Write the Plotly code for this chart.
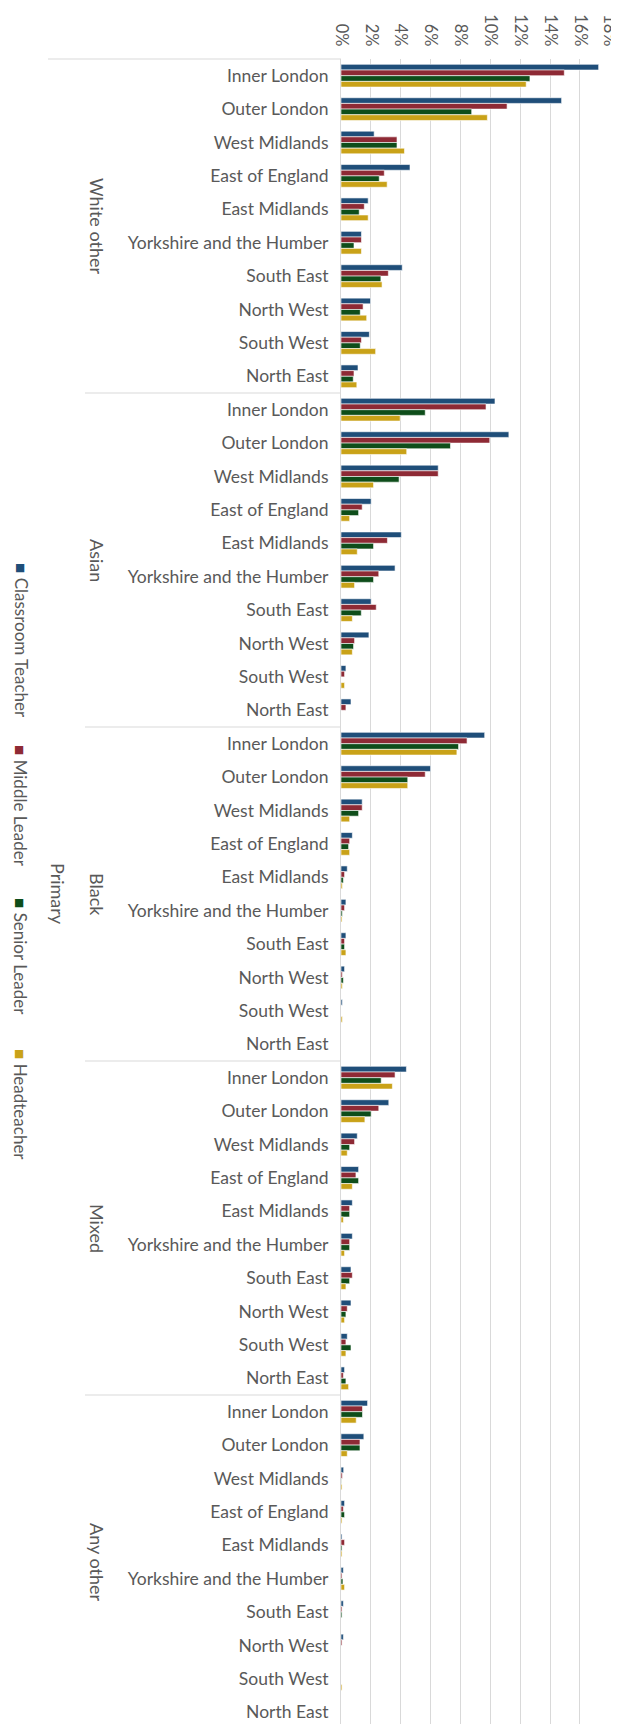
import plotly.graph_objects as go

regions = ["Inner London", "Outer London", "West Midlands", "East of England",
           "East Midlands", "Yorkshire and the Humber", "South East",
           "North West", "South West", "North East"]
groups = ["White other", "Asian", "Black", "Mixed", "Any other"]
series_names = ["Classroom Teacher", "Middle Leader", "Senior Leader", "Headteacher"]
colors = ["#1F4E79", "#8E2A35", "#0E4D1A", "#C9A218"]
x_ticks = [0, 2, 4, 6, 8, 10, 12, 14, 16, 18]
x_tick_labels = ["0%", "2%", "4%", "6%", "8%", "10%", "12%", "14%", "16%", "18%"]

# values in percent, per group (regions in the order above)
classroom_teacher = [
    17.25, 14.77, 2.22, 4.62, 1.82, 1.37, 4.10, 1.98, 1.90, 1.14,   # White other
    10.31, 11.24, 6.51, 2.02, 4.04, 3.62, 2.02, 1.87, 0.33, 0.67,   # Asian
    9.62, 6.00, 1.42, 0.76, 0.42, 0.33, 0.33, 0.24, 0.09, 0.0,      # Black
    4.38, 3.20, 1.09, 1.18, 0.76, 0.76, 0.67, 0.67, 0.42, 0.24,     # Mixed
    1.78, 1.53, 0.18, 0.24, 0.07, 0.16, 0.16, 0.16, 0.0, 0.0,       # Any other
]
middle_leader = [
    14.95, 11.12, 3.75, 2.90, 1.56, 1.37, 3.17, 1.48, 1.37, 0.87,
    9.71, 9.96, 6.51, 1.42, 3.11, 2.53, 2.36, 0.91, 0.24, 0.33,
    8.44, 5.64, 1.42, 0.58, 0.24, 0.24, 0.24, 0.09, 0.0, 0.0,
    3.62, 2.53, 0.91, 1.00, 0.58, 0.58, 0.76, 0.42, 0.33, 0.16,
    1.44, 1.27, 0.09, 0.16, 0.24, 0.07, 0.07, 0.07, 0.0, 0.0,
]
senior_leader = [
    12.65, 8.75, 3.75, 2.56, 1.22, 0.87, 2.67, 1.29, 1.29, 0.82,
    5.64, 7.33, 3.89, 1.18, 2.18, 2.18, 1.36, 0.84, 0.0, 0.0,
    7.87, 4.47, 1.18, 0.51, 0.16, 0.09, 0.24, 0.16, 0.0, 0.0,
    2.69, 2.02, 0.58, 1.18, 0.58, 0.58, 0.58, 0.33, 0.67, 0.33,
    1.44, 1.27, 0.02, 0.24, 0.07, 0.13, 0.07, 0.0, 0.0, 0.0,
]
headteacher = [
    12.40, 9.80, 4.25, 3.09, 1.82, 1.37, 2.75, 1.72, 2.32, 1.06,
    3.96, 4.40, 2.18, 0.58, 1.09, 0.91, 0.76, 0.76, 0.24, 0.0,
    7.76, 4.47, 0.58, 0.58, 0.09, 0.07, 0.33, 0.09, 0.09, 0.0,
    3.44, 1.60, 0.42, 0.76, 0.16, 0.24, 0.33, 0.24, 0.33, 0.51,
    1.02, 0.42, 0.07, 0.07, 0.07, 0.24, 0.0, 0.0, 0.07, 0.0,
]

# page has an 8px body margin; figure placed at (8, 8)
OFF = 8
PAGE_W, PAGE_H = 619, 1724
W, H = PAGE_W - OFF, PAGE_H - OFF
L, R, T, B = 341 - OFF, 9, 59 - OFF, 0
PW, PH = W - L - R, H - T - B
ROW = 33.4
n_rows = len(groups) * len(regions)
y_idx = list(range(n_rows))
y_labels = regions * len(groups)

def px_x(px):  # page pixel -> paper x
    return (px - OFF - L) / PW

def px_y(py):  # page pixel -> paper y
    return (H - B - (py - OFF)) / PH

FONT = "Lato, 'Open Sans', sans-serif"
GREY = "#595959"

fig = go.Figure()
for name, vals, col in zip(series_names,
                           [classroom_teacher, middle_leader, senior_leader, headteacher],
                           colors):
    fig.add_trace(go.Bar(
        x=vals, y=y_idx, orientation="h", name=name,
        marker=dict(color=col, line=dict(color="white", width=0.6)),
        showlegend=False,
    ))

y_bottom = -0.5 + PH / ROW

fig.update_layout(
    width=W, height=H,
    margin=dict(l=L, r=R, t=T, b=B, pad=0),
    plot_bgcolor="white", paper_bgcolor="white",
    barmode="group", bargap=0.32, bargroupgap=0.0,
    font=dict(family=FONT, color=GREY),
    xaxis=dict(
        side="top", range=[0, 18.01], tickvals=x_ticks, ticktext=x_tick_labels,
        tickangle=90, showgrid=True, gridcolor="#D9D9D9", gridwidth=1,
        zeroline=False, showline=False, ticks="", automargin=False,
        ticklabeloverflow="allow",
        tickfont=dict(size=16.5, color=GREY, family=FONT), ticklabelstandoff=9,
    ),
    yaxis=dict(
        range=[y_bottom, -0.5], tickvals=y_idx, ticktext=y_labels,
        showgrid=False, zeroline=False, showline=True, linecolor="#D9D9D9",
        linewidth=1, ticks="", automargin=False,
        tickfont=dict(size=17.5, color=GREY, family=FONT), ticklabelstandoff=8,
    ),
)

shapes = []
# top border line of the category area
shapes.append(dict(type="line", xref="paper", yref="paper",
                   x0=px_x(48), x1=0, y0=1, y1=1,
                   line=dict(color="#D9D9D9", width=1)))
# separators between groups
for g in range(1, len(groups) + 1):
    yy = g * len(regions) - 0.5
    if yy > y_bottom:
        continue
    shapes.append(dict(type="line", xref="paper", yref="y",
                       x0=px_x(85), x1=0, y0=yy, y1=yy,
                       line=dict(color="#D9D9D9", width=1)))
fig.update_layout(shapes=shapes)

annotations = []
for g, gname in enumerate(groups):
    annotations.append(dict(
        text=gname, xref="paper", yref="y", x=px_x(97),
        y=g * len(regions) + 4.5, textangle=90, showarrow=False,
        xanchor="center", yanchor="middle",
        font=dict(size=18, color=GREY, family=FONT)))
annotations.append(dict(
    text="Primary", xref="paper", yref="y", x=px_x(58), y=24.5,
    textangle=90, showarrow=False, xanchor="center", yanchor="middle",
    font=dict(size=18, color=GREY, family=FONT)))

legend_centers = [640, 806, 956, 1104]
for name, col, cy in zip(series_names, colors, legend_centers):
    annotations.append(dict(
        text=f'<span style="color:{col}">■</span> {name}',
        xref="paper", yref="paper", x=px_x(21), y=px_y(cy),
        textangle=90, showarrow=False, xanchor="center", yanchor="middle",
        font=dict(size=17, color=GREY, family=FONT)))
fig.update_layout(annotations=annotations)

fig.write_html("out.html")
